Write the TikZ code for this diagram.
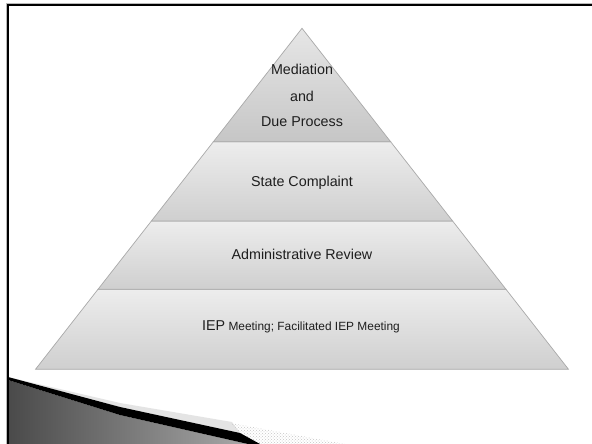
\documentclass[tikz,border=0pt]{standalone}
\usepackage{fontspec}
\setmainfont{Liberation Sans}
\usetikzlibrary{patterns}
\definecolor{tierline}{HTML}{A9A9A9}
\definecolor{txt}{HTML}{1E1E1E}
\definecolor{topA}{HTML}{E6E6E6}
\definecolor{botA}{HTML}{C6C6C6}
\definecolor{topB}{HTML}{EDEDED}
\definecolor{botB}{HTML}{CFCFCF}
\definecolor{darkL}{HTML}{4A4A4A}
\definecolor{darkR}{HTML}{A8A8A8}
\definecolor{band}{HTML}{E4E4E4}
\begin{document}
\begin{tikzpicture}[x=1pt,y=-1pt,
  tierbox/.style={draw=tierline, line width=0.7pt, line join=miter},
  toptier/.style={tierbox, top color=topA, bottom color=botA},
  lowtier/.style={tierbox, top color=topB, bottom color=botB},
  lbl/.style={anchor=base, inner sep=0pt, text=txt, font=\fontsize{14.3}{16}\selectfont},
  smalllbl/.style={font=\fontsize{11.9}{14}\selectfont}]
\useasboundingbox (0,0) rectangle (592,444);
\fill[white] (0,0) rectangle (592,444);

% pyramid corner points
\coordinate (A)  at (302,28.3);
\coordinate (L1) at (213.4,141.7); \coordinate (R1) at (390.6,141.7);
\coordinate (L2) at (151.4,221);   \coordinate (R2) at (452.6,221);
\coordinate (L3) at (98,289.3);    \coordinate (R3) at (506,289.3);
\coordinate (L4) at (35.5,369.3);  \coordinate (R4) at (568.5,369.3);

% tiers
\path[lowtier] (L3) -- (R3) -- (R4) -- (L4) -- cycle;
\path[lowtier] (L2) -- (R2) -- (R3) -- (L3) -- cycle;
\path[lowtier] (L1) -- (R1) -- (R2) -- (L2) -- cycle;
\path[toptier] (A) -- (R1) -- (L1) -- cycle;

% labels
\node[lbl] (med)  at (302,74.4)  {Mediation};
\node[lbl] (and)  at (302,101.4) {and};
\node[lbl] (due)  at (302,126.8) {Due Process};
\node[lbl] (sc)   at (302,186.8) {State Complaint};
\node[lbl] (ar)   at (302,259.5) {Administrative Review};
\node[lbl] (iep)  at (301,330)   {IEP{\fontsize{11.9}{14}\selectfont{} Meeting; Facilitated IEP Meeting}};

% bottom-left decoration
\path[left color=darkL, right color=darkR]
  (8,380) -- (120,415) -- (248,444) -- (8,444) -- cycle;
\fill[band] (8,377) -- (120,403) -- (232,422) -- (240,433) -- (120,407) -- cycle;
\path[pattern=crosshatch dots, pattern color=gray!45]
  (231,423) -- (345,444) -- (258,444) -- (240,433) -- cycle;
\fill[black] (8,377) -- (120,407) -- (240,433) -- (260,444) -- (248,444)
  -- (120,415) -- (8,380) -- cycle;

% frame
\draw[gray!55, line width=0.8pt] (6.4,444) -- (6.4,3.7) -- (592,3.7);
\draw[black, line width=2.4pt] (8.2,444) -- (8.2,5.3) -- (592,5.3);
\end{tikzpicture}
\end{document}
